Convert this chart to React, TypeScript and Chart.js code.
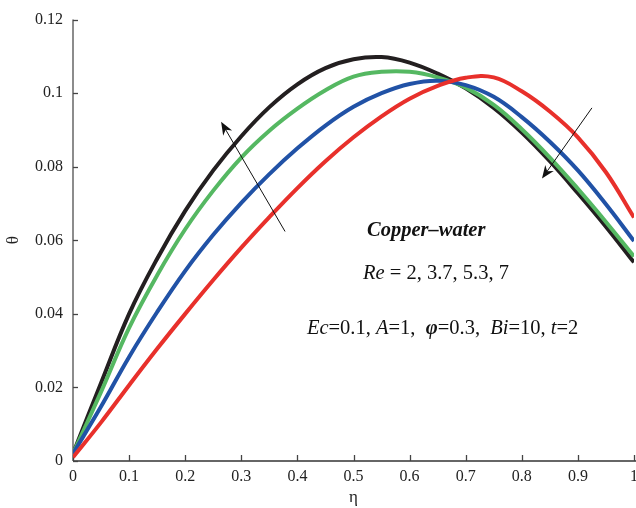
import React, { useEffect, useRef } from "react";
import { Chart, registerables } from "chart.js";

Chart.register(...registerables);

// Similarity variable η (shared abscissa)
const eta = [0, 0.05, 0.1, 0.15, 0.2, 0.25, 0.3, 0.35, 0.4, 0.45, 0.5, 0.55, 0.6, 0.65, 0.7, 0.75, 0.8, 0.85, 0.9, 0.95, 1];

// Temperature profiles θ(η) for each Reynolds number
const thetaRe2 = [0.001, 0.0105, 0.0206, 0.0305, 0.04, 0.0492, 0.058, 0.0663, 0.0742, 0.0815, 0.088, 0.0937, 0.0985, 0.102, 0.1042, 0.1043, 0.1005, 0.095, 0.088, 0.0785, 0.0662];
const thetaRe37 = [0.002, 0.0148, 0.0283, 0.0405, 0.0517, 0.0615, 0.0702, 0.078, 0.085, 0.0912, 0.0963, 0.1, 0.1025, 0.1034, 0.1022, 0.099, 0.0935, 0.0868, 0.079, 0.0698, 0.0598];
const thetaRe53 = [0.002, 0.0188, 0.0362, 0.0505, 0.063, 0.0735, 0.0825, 0.0898, 0.0958, 0.1008, 0.1045, 0.1058, 0.1058, 0.1043, 0.1015, 0.0968, 0.0902, 0.0825, 0.074, 0.065, 0.0556];
const thetaRe7 = [0.002, 0.0212, 0.04, 0.055, 0.068, 0.079, 0.0883, 0.0962, 0.1024, 0.1068, 0.1092, 0.1098, 0.1083, 0.1053, 0.1013, 0.096, 0.0893, 0.0815, 0.0728, 0.0637, 0.054];

const reLabels = ["Re = 2", "Re = 3.7", "Re = 5.3", "Re = 7"];
const seriesColors = ["#e8302b", "#2152a6", "#55b862", "#231f20"];

// Axis ticks
const xTicks = [0, 0.1, 0.2, 0.3, 0.4, 0.5, 0.6, 0.7, 0.8, 0.9, 1];
const yTicks = [0, 0.02, 0.04, 0.06, 0.08, 0.1, 0.12];

const SERIF = "'Liberation Serif', 'Times New Roman', serif";

type Seg = [string, string];

// Axis lines with inward tick marks
const axesPlugin = {
  id: "axesInward",
  beforeDatasetsDraw(chart: any) {
    const { ctx, chartArea, scales } = chart;
    const xs = scales.x;
    const ys = scales.y;
    ctx.save();
    ctx.lineWidth = 1.5;
    ctx.strokeStyle = "#666";
    ctx.beginPath();
    ctx.moveTo(chartArea.left, chartArea.top);
    ctx.lineTo(chartArea.left, chartArea.bottom);
    ctx.stroke();
    ctx.strokeStyle = "#333";
    ctx.beginPath();
    ctx.moveTo(chartArea.left, chartArea.bottom);
    ctx.lineTo(chart.width, chartArea.bottom);
    ctx.stroke();
    ctx.strokeStyle = "#444";
    ctx.lineWidth = 1.3;
    for (const v of xTicks) {
      const px = Math.round(xs.getPixelForValue(v)) + 0.5;
      ctx.beginPath();
      ctx.moveTo(px, chartArea.bottom);
      ctx.lineTo(px, chartArea.bottom - 6);
      ctx.stroke();
    }
    for (const v of yTicks) {
      const py = Math.round(ys.getPixelForValue(v)) + 0.5;
      ctx.beginPath();
      ctx.moveTo(chartArea.left, py);
      ctx.lineTo(chartArea.left + 5, py);
      ctx.stroke();
    }
    ctx.restore();
  },
};

function drawArrow(ctx: CanvasRenderingContext2D, x1: number, y1: number, x2: number, y2: number) {
  const ang = Math.atan2(y2 - y1, x2 - x1);
  const len = 14;
  const half = 0.38;
  ctx.beginPath();
  ctx.moveTo(x1, y1);
  ctx.lineTo(x2 - Math.cos(ang) * 6, y2 - Math.sin(ang) * 6);
  ctx.stroke();
  ctx.beginPath();
  ctx.moveTo(x2, y2);
  ctx.lineTo(x2 - len * Math.cos(ang - half), y2 - len * Math.sin(ang - half));
  ctx.lineTo(x2 - 9 * Math.cos(ang), y2 - 9 * Math.sin(ang));
  ctx.lineTo(x2 - len * Math.cos(ang + half), y2 - len * Math.sin(ang + half));
  ctx.closePath();
  ctx.fill();
}

function drawSegments(ctx: CanvasRenderingContext2D, segs: Seg[], x: number, y: number, size: number) {
  let cx = x;
  for (const [text, style] of segs) {
    ctx.font = `${style} ${size}px ${SERIF}`;
    ctx.fillText(text, cx, y);
    cx += ctx.measureText(text).width;
  }
}

// Labels, parameter text and direction arrows
const notesPlugin = {
  id: "notes",
  afterDatasetsDraw(chart: any) {
    const { ctx, chartArea, scales } = chart;
    const X = (v: number) => scales.x.getPixelForValue(v);
    const Y = (v: number) => scales.y.getPixelForValue(v);
    ctx.save();
    ctx.fillStyle = "#111";
    ctx.strokeStyle = "#111";
    ctx.lineWidth = 1;

    // increasing-Re arrows
    drawArrow(ctx, X(0.378), Y(0.0624), X(0.264), Y(0.0922));
    drawArrow(ctx, X(0.925), Y(0.096), X(0.836), Y(0.0768));

    ctx.textBaseline = "middle";
    ctx.textAlign = "left";
    drawSegments(ctx, [["Copper\u2013water", "italic bold"]], X(0.524), Y(0.0625), 20.5);
    drawSegments(ctx, [["Re", "italic"], [" = 2, 3.7, 5.3, 7", "normal"]], X(0.517), Y(0.0509), 20.5);
    drawSegments(
      ctx,
      [
        ["Ec", "italic"],
        ["=0.1, ", "normal"],
        ["A", "italic"],
        ["=1,  ", "normal"],
        ["\u03C6", "italic bold"],
        ["=0.3,  ", "normal"],
        ["Bi", "italic"],
        ["=10, ", "normal"],
        ["t", "italic"],
        ["=2", "normal"],
      ],
      X(0.417),
      Y(0.036),
      20.5
    );

    // axis titles
    ctx.fillStyle = "#222";
    ctx.textAlign = "center";
    ctx.font = `17px ${SERIF}`;
    ctx.fillText("\u03B7", (chartArea.left + chartArea.right) / 2, 498);
    ctx.translate(14, (chartArea.top + chartArea.bottom) / 2);
    ctx.rotate(-Math.PI / 2);
    ctx.fillText("\u03B8", 0, 0);
    ctx.restore();
  },
};

const fmt = (v: any) => String(Number(Number(v).toFixed(2)));

export default function App() {
  const ref = useRef<HTMLCanvasElement>(null);

  useEffect(() => {
    const canvas = ref.current;
    if (!canvas) return;
    const profiles = [thetaRe2, thetaRe37, thetaRe53, thetaRe7];
    const chart = new Chart(canvas, {
      type: "line",
      data: {
        datasets: profiles.map((vals, k) => ({
          label: reLabels[k],
          data: eta.map((x, i) => ({ x, y: vals[i] })),
          borderColor: seriesColors[k],
          backgroundColor: seriesColors[k],
          borderWidth: 4,
          pointRadius: 0,
          tension: 0.4,
          fill: false,
        })),
      },
      options: {
        responsive: false,
        animation: false,
        devicePixelRatio: 1,
        layout: { padding: { top: 17, right: 2, bottom: 0, left: 0 } },
        plugins: {
          legend: { display: false },
          tooltip: { enabled: false },
        },
        scales: {
          x: {
            type: "linear",
            min: 0,
            max: 1,
            grid: { display: false, drawTicks: false },
            border: { display: false },
            ticks: {
              stepSize: 0.1,
              autoSkip: false,
              maxRotation: 0,
              padding: 6,
              color: "#222",
              font: { family: SERIF, size: 16 },
              callback: fmt,
            },
            afterFit(scale: any) {
              scale.height = 47;
              scale.paddingRight = 0;
              scale.paddingLeft = 0;
            },
          },
          y: {
            type: "linear",
            min: 0,
            max: 0.12,
            grid: { display: false, drawTicks: false },
            border: { display: false },
            ticks: {
              stepSize: 0.02,
              padding: 10,
              color: "#222",
              font: { family: SERIF, size: 16 },
              callback: fmt,
            },
            afterFit(scale: any) {
              scale.width = 73;
            },
          },
        },
      },
      plugins: [axesPlugin, notesPlugin],
    } as any);
    return () => chart.destroy();
  }, []);

  return (
    <div style={{ position: "fixed", left: 0, top: 0, width: 636, height: 508, background: "#fff" }}>
      <canvas ref={ref} width={636} height={508} style={{ display: "block" }} />
    </div>
  );
}
